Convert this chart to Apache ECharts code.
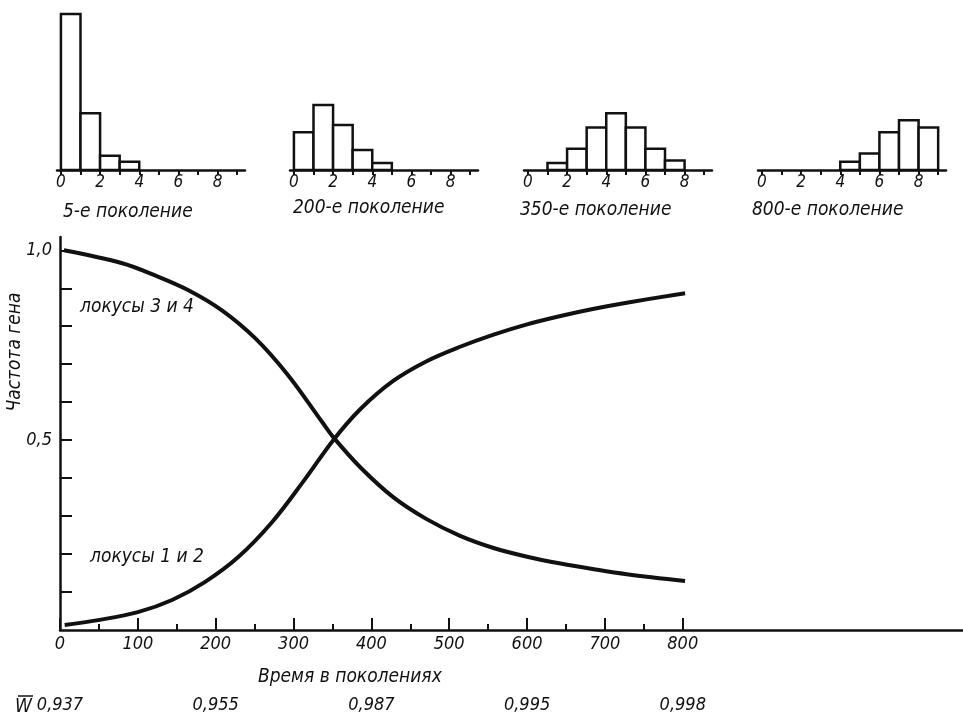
<!DOCTYPE html>
<html>
<head>
<meta charset="utf-8">
<script src="https://cdn.jsdelivr.net/npm/echarts@6/dist/echarts.min.js"></script>
<style>
  html, body { margin: 0; padding: 0; background: #fff; }
  #chart { width: 963px; height: 719px; }
</style>
</head>
<body>
<div id="chart"></div>
<script>
// Histogram bins (number of loci), shared by all four small charts
const bins = [0, 1, 2, 3, 4, 5, 6, 7, 8];
const binTicks = [0, 1, 2, 3, 4, 5, 6, 7, 8, 9];
const binLabels = [0, 2, 4, 6, 8];
// Relative frequencies (same arbitrary scale for all)
const hist5 = [66, 24, 6, 3.5, 0, 0, 0, 0, 0];
const hist200 = [16, 27.5, 19, 8.5, 3, 0, 0, 0, 0];
const hist350 = [0, 3, 9, 18, 24, 18, 9, 4, 0];
const hist800 = [0, 0, 0, 0, 3.5, 7, 16, 21, 18];
const histNames = ['5-е поколение', '200-е поколение', '350-е поколение', '800-е поколение'];

// Gene frequency curves
const locus34Gen = [5, 80, 122, 165, 208, 251, 293, 337, 351, 386, 428, 471, 514, 557, 600, 643, 686, 728, 803];
const locus34Freq = [1.0, 0.966, 0.934, 0.895, 0.842, 0.768, 0.671, 0.547, 0.508, 0.428, 0.35, 0.292, 0.248, 0.216, 0.193, 0.175, 0.16, 0.147, 0.129];
const locus12Gen = [6, 49, 100, 144, 186, 229, 272, 315, 351, 386, 428, 471, 514, 557, 600, 643, 686, 728, 803];
const locus12Freq = [0.013, 0.026, 0.047, 0.079, 0.126, 0.192, 0.283, 0.398, 0.5, 0.582, 0.656, 0.708, 0.746, 0.778, 0.805, 0.827, 0.846, 0.862, 0.887];

const genTicks = [0, 100, 200, 300, 400, 500, 600, 700, 800];
const genMinorTicks = [50, 150, 250, 350, 450, 550, 650, 750];
const freqTicks = [0.1, 0.2, 0.3, 0.4, 0.5, 0.6, 0.7, 0.8, 0.9, 1.0];
const freqLabels = [0.5, 1.0];
// Mean fitness W at given generations
const wGen = [0, 200, 400, 600, 800];
const wValues = ['0,937', '0,955', '0,987', '0,995', '0,998'];

const INK = '#111';
const FONT = "'Liberation Sans Narrow', 'DejaVu Sans Condensed', sans-serif";
const txt = (size) => ({ color: INK, fontFamily: FONT, fontStyle: 'italic', fontSize: size });

const chart = echarts.init(document.getElementById('chart'));

const histData = [hist5, hist200, hist350, hist800];
const histLefts = [57, 290, 524, 758];

const grids = histLefts.map((left) => ({ left, top: 14, width: 188, height: 156 }));
grids.push({ left: 60, top: 237, right: 0, bottom: 89 });

const xAxes = histLefts.map((_, i) => ({
  type: 'value', gridIndex: i, min: -0.2, max: 9.4, position: 'bottom',
  splitLine: { show: false },
  axisLine: { lineStyle: { color: INK, width: 2.5 } },
  axisTick: { customValues: binTicks, length: 5, lineStyle: { color: INK, width: 2 } },
  axisLabel: { customValues: binLabels, margin: 4, ...txt(17) },
}));
// main axis
xAxes.push({
  type: 'value', gridIndex: 4, min: 0, max: 1160, position: 'bottom',
  splitLine: { show: false },
  axisLine: { onZero: false, lineStyle: { color: INK, width: 2.5 } },
  axisTick: { customValues: genTicks, inside: true, length: 12, lineStyle: { color: INK, width: 2 } },
  axisLabel: { customValues: genTicks, margin: 5, ...txt(18) },
});
// minor ticks
xAxes.push({
  type: 'value', gridIndex: 4, min: 0, max: 1160, position: 'bottom',
  splitLine: { show: false },
  axisLine: { show: false, onZero: false },
  axisTick: { customValues: genMinorTicks, inside: true, length: 6, lineStyle: { color: INK, width: 2 } },
  axisLabel: { show: false },
});
// mean fitness row
xAxes.push({
  type: 'value', gridIndex: 4, min: 0, max: 1160, position: 'bottom', offset: 61,
  splitLine: { show: false },
  axisLine: { show: false, onZero: false },
  axisTick: { show: false },
  axisLabel: {
    customValues: wGen, margin: 5, ...txt(18),
    formatter: (v) => wValues[wGen.indexOf(v)],
  },
});

const yAxes = histLefts.map((_, i) => ({
  type: 'value', gridIndex: i, min: 0, max: 66, show: false,
}));
yAxes.push({
  type: 'value', gridIndex: 4, min: 0, max: 1.035,
  splitLine: { show: false },
  axisLine: { show: true, onZero: false, lineStyle: { color: INK, width: 2.5 } },
  axisTick: { show: true, customValues: freqTicks, inside: true, length: 12, lineStyle: { color: INK, width: 2 } },
  axisLabel: {
    customValues: freqLabels, margin: 8, ...txt(18),
    formatter: (v) => v.toFixed(1).replace('.', ','),
  },
});

const histSeries = histData.map((vals, i) => ({
  type: 'custom', xAxisIndex: i, yAxisIndex: i,
  data: bins.map((b, k) => [b, vals[k]]),
  renderItem: (params, api) => {
    const x0 = api.value(0);
    const v = api.value(1);
    if (!v) return null;
    const p0 = api.coord([x0, 0]);
    const p1 = api.coord([x0 + 1, v]);
    return {
      type: 'rect',
      shape: { x: p0[0], y: p1[1], width: p1[0] - p0[0], height: p0[1] - p1[1] },
      style: { fill: '#fff', stroke: INK, lineWidth: 2.5 },
    };
  },
}));

const lineStyle = { color: INK, width: 4 };
const curveSeries = [
  {
    name: 'локусы 3 и 4', type: 'line', xAxisIndex: 4, yAxisIndex: 4,
    data: locus34Gen.map((g, i) => [g, locus34Freq[i]]),
    smooth: 0.35, showSymbol: false, lineStyle,
  },
  {
    name: 'локусы 1 и 2', type: 'line', xAxisIndex: 4, yAxisIndex: 4,
    data: locus12Gen.map((g, i) => [g, locus12Freq[i]]),
    smooth: 0.35, showSymbol: false, lineStyle,
  },
];

const captionPos = [[63, 212], [293, 208], [520, 210], [752, 210]];
const textEl = (text, x, y, size) => ({
  type: 'text', x, y,
  style: { text, fill: INK, font: `italic ${size}px ${FONT}`, align: 'left', verticalAlign: 'middle' },
});

const graphics = histNames.map((n, i) => textEl(n, captionPos[i][0], captionPos[i][1], 19));
graphics.push(textEl('локусы 3 и 4', 80, 307, 19));
graphics.push(textEl('локусы 1 и 2', 90, 557, 19));
graphics.push(textEl('Время в поколениях', 258, 677, 19));
// W with a bar over it
graphics.push(textEl('W', 15, 707, 19));
graphics.push({ type: 'line', shape: { x1: 18, y1: 696, x2: 33, y2: 696 }, style: { stroke: INK, lineWidth: 1.5 } });
graphics.push({
  type: 'text', x: 15, y: 352, rotation: Math.PI / 2,
  style: { text: 'Частота гена', fill: INK, font: `italic 19px ${FONT}`, align: 'center', verticalAlign: 'middle' },
});

chart.setOption({
  backgroundColor: '#fff',
  animation: false,
  grid: grids,
  xAxis: xAxes,
  yAxis: yAxes,
  series: [...histSeries, ...curveSeries],
  graphic: graphics,
});

window.addEventListener('resize', () => chart.resize());
</script>
</body>
</html>
